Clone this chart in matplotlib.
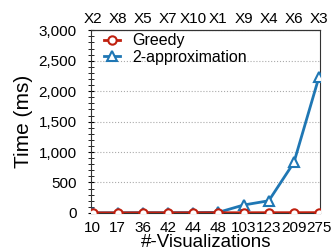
import matplotlib
matplotlib.use("Agg")
import matplotlib.pyplot as plt
from matplotlib.ticker import MultipleLocator, FuncFormatter
import numpy as np

plt.rcParams['font.family'] = ['Liberation Sans', 'DejaVu Sans']

n_vis = ['10', '17', '36', '42', '44', '48', '103', '123', '209', '275']
top_labels = ['X2', 'X8', 'X5', 'X7', 'X10', 'X1', 'X9', 'X4', 'X6', 'X3']
greedy = [1, 1, 2, 2, 2, 3, 3, 4, 4, 5]
approx2 = [2, 3, 5, 5, 6, 10, 130, 200, 830, 2240]

fig = plt.figure(figsize=(3.32, 2.52), dpi=100)
ax = fig.add_axes([0.275, 0.155, 0.69, 0.725])

x = np.arange(len(n_vis))
ax.plot(x, approx2, color='#1f77b4', lw=2, marker='^', ms=6.5,
        mfc='white', mew=1.5, label='2-approximation', zorder=3)
ax.plot(x, greedy, color='#c0200f', lw=2, marker='o', ms=6,
        mfc='white', mew=1.5, label='Greedy', zorder=4)

ax.set_xlim(-0.05, len(n_vis) - 0.95)
ax.set_ylim(0, 3000)
ax.set_xticks(x)
ax.set_xticklabels(n_vis, fontsize=11)
ax.yaxis.set_major_locator(MultipleLocator(500))
ax.yaxis.set_minor_locator(MultipleLocator(100))
ax.yaxis.set_major_formatter(FuncFormatter(lambda v, p: f'{int(v):,}'))
ax.tick_params(axis='y', which='both', direction='inout', labelsize=11, pad=8)
ax.tick_params(axis='y', which='major', length=5)
ax.tick_params(axis='y', which='minor', length=4)
ax.tick_params(axis='x', length=0, pad=6)
ax.grid(axis='y', ls=':', color='#aaaaaa', lw=0.8)
for s in ax.spines.values():
    s.set_color('#333333')

top = ax.secondary_xaxis('top')
top.set_xticks(x)
top.set_xticklabels(top_labels, fontsize=11)
top.tick_params(length=0, pad=3)

ax.set_ylabel('Time (ms)', fontsize=15, labelpad=4)
ax.set_xlabel('#-Visualizations', fontsize=13.5, labelpad=-1)

h, l = ax.get_legend_handles_labels()
ax.legend(h[::-1], l[::-1], loc='upper left', frameon=False, fontsize=11.5,
          handlelength=1.0, borderaxespad=0.1, labelspacing=0.1,
          handletextpad=0.8, borderpad=0.1, bbox_to_anchor=(0.04, 1.0))

fig.savefig('out.png', dpi=100)
